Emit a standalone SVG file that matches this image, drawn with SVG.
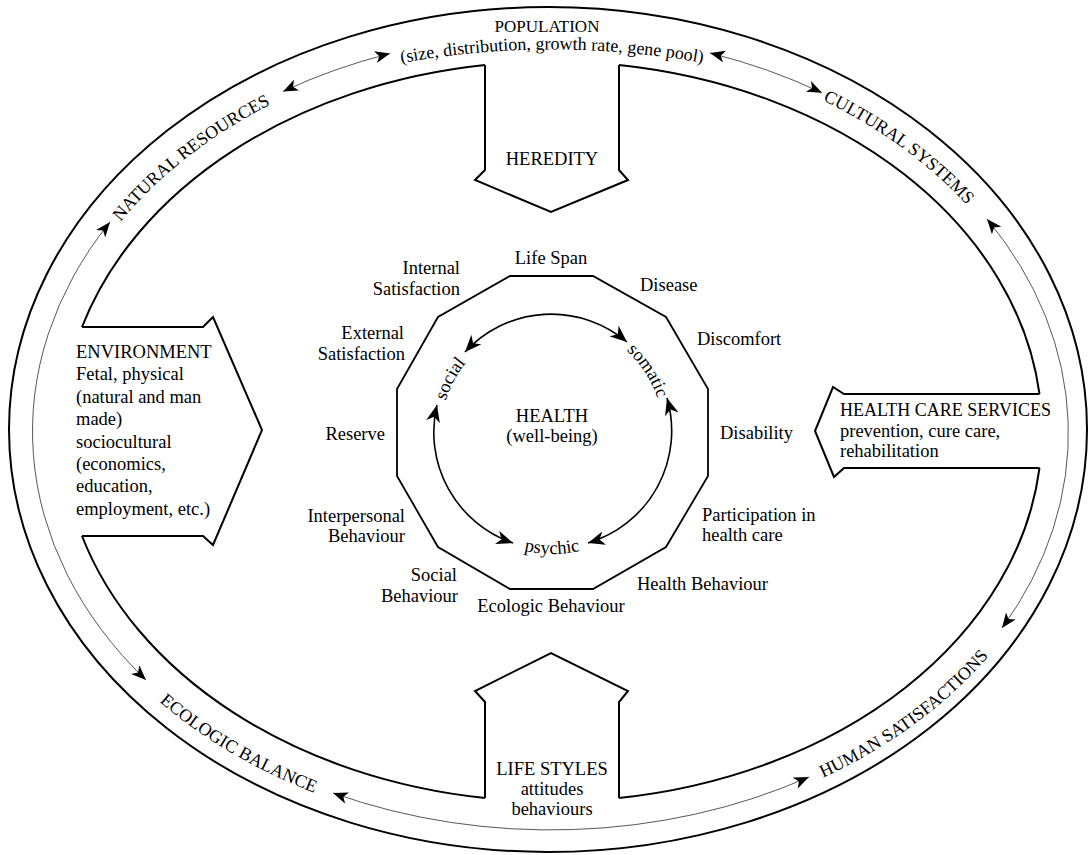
<svg xmlns="http://www.w3.org/2000/svg" width="1088" height="855" viewBox="0 0 1088 855">
<style>
text { font-family: "Liberation Serif", "Times New Roman", serif; font-size: 18.5px; fill: #000; }
.band { font-size: 18px; }
.pop { font-size: 17px; }
.sub { font-size: 18px; }
.line { fill: none; stroke: #000; stroke-width: 2; stroke-linejoin: miter; }
.thin { fill: none; stroke: #444; stroke-width: 0.9; marker-start: url(#ah); marker-end: url(#ah); }
.circ { fill: none; stroke: #000; stroke-width: 1.6; marker-start: url(#ahb); marker-end: url(#ahb); }
.poly { fill: none; stroke: #000; stroke-width: 1.8; }
</style>
<defs>
<marker id="ah" markerUnits="userSpaceOnUse" markerWidth="16" markerHeight="12" refX="15" refY="6" orient="auto-start-reverse" viewBox="0 0 16 12">
<path d="M0,0 L15,6 L0,12 L4,6 z" fill="#000"/>
</marker>
<marker id="ahb" markerUnits="userSpaceOnUse" markerWidth="18" markerHeight="14" refX="17" refY="7" orient="auto-start-reverse" viewBox="0 0 18 14">
<path d="M0,0 L17,7 L0,14 L5,7 z" fill="#000"/>
</marker>
<path id="pNat" d="M 85.1,272.6 A 510 392 0 0 1 327.4,79.7"/>
<path id="pCul" d="M 758.4,73.9 A 510 392 0 0 1 1009.4,260.1"/>
<path id="pEco" d="M 104.9,646.1 A 526 404 0 0 0 388.5,816.2"/>
<path id="pHum" d="M 751.5,805.5 A 526 404 0 0 0 1033,593.7"/>
<path id="pPop" d="M 385,66 Q 552,33 719,66"/>
<path id="pSoc" d="M 442.1,417.5 A 111 111 0 0 1 477.7,350.5"/>
<path id="pSom" d="M 618.8,344.4 A 111 111 0 0 1 660.2,408"/>
<path id="pPsy" d="M 474.2,525.7 A 121 121 0 0 0 629.8,525.7"/>
</defs>
<rect width="1088" height="855" fill="#fff"/>

<g id="ring">
<ellipse class="line" cx="548" cy="429.5" rx="539" ry="422.5"/>
<path class="line" d="M 82,327 A 490 370 0 0 1 485,65 M 619,65 A 490 370 0 0 1 1039.5,394 M 1039.5,468 A 490 370 0 0 1 619,798 M 485,798 A 490 370 0 0 1 82,536"/>
</g>

<g id="population">
<text class="pop" x="547" y="31.5" text-anchor="middle">POPULATION</text>
<text class="sub"><textPath href="#pPop" startOffset="50%" text-anchor="middle">(size, distribution, growth rate, gene pool)</textPath></text>
</g>
<g id="natural-resources"><text class="band"><textPath href="#pNat" startOffset="50%" text-anchor="middle">NATURAL RESOURCES</textPath></text></g>
<g id="cultural-systems"><text class="band"><textPath href="#pCul" startOffset="50%" text-anchor="middle">CULTURAL SYSTEMS</textPath></text></g>
<g id="ecologic-balance"><text class="band"><textPath href="#pEco" startOffset="50%" text-anchor="middle">ECOLOGIC BALANCE</textPath></text></g>
<g id="human-satisfactions"><text class="band"><textPath href="#pHum" startOffset="50%" text-anchor="middle">HUMAN SATISFACTIONS</textPath></text></g>

<g id="heredity">
<path class="line" d="M 485,65 L 485,170 L 475,180 L 551,212 L 628,180 L 619,170 L 619,65"/>
<text x="552" y="165" text-anchor="middle">HEREDITY</text>
</g>

<g id="environment">
<path class="line" d="M 82,327 L 203,327 L 213,317 L 262,430 L 213,545 L 203,536 L 82,536"/>
<text x="76" y="358">ENVIRONMENT</text>
<text x="76" y="380.4">Fetal, physical</text>
<text x="76" y="402.8">(natural and man</text>
<text x="76" y="425.2">made)</text>
<text x="76" y="447.6">sociocultural</text>
<text x="76" y="470">(economics,</text>
<text x="76" y="492.4">education,</text>
<text x="76" y="514.8">employment, etc.)</text>
</g>

<g id="health-care-services">
<path class="line" d="M 1039.5,394 L 844,394 L 833,387 L 815,431 L 834,477 L 844,468 L 1039.5,468"/>
<text class="sub" x="840" y="416">HEALTH CARE SERVICES</text>
<text x="840" y="437">prevention, cure care,</text>
<text x="840" y="457">rehabilitation</text>
</g>

<g id="life-styles">
<path class="line" d="M 485,798 L 485,702 L 475,691 L 551,653 L 628,691 L 619,702 L 619,798"/>
<text x="552" y="775" text-anchor="middle">LIFE STYLES</text>
<text x="552" y="795" text-anchor="middle">attitudes</text>
<text x="552" y="815" text-anchor="middle">behaviours</text>
</g>

<g id="health">
<polygon class="poly" points="510,276 593,276 666,317 708,389 708,476 666,547 593,589 510,589 438,547 397,476 397,389 438,317"/>
<text x="552" y="422" text-anchor="middle">HEALTH</text>
<text x="552" y="442" text-anchor="middle">(well-being)</text>
</g>

<g id="health-labels">
<text x="551" y="264" text-anchor="middle">Life Span</text>
<text x="460" y="274" text-anchor="end">Internal</text>
<text x="460" y="295" text-anchor="end">Satisfaction</text>
<text x="404" y="339" text-anchor="end">External</text>
<text x="405" y="360" text-anchor="end">Satisfaction</text>
<text x="385" y="440" text-anchor="end">Reserve</text>
<text x="405" y="522" text-anchor="end">Interpersonal</text>
<text x="405" y="542" text-anchor="end">Behaviour</text>
<text x="457" y="581" text-anchor="end">Social</text>
<text x="458" y="602" text-anchor="end">Behaviour</text>
<text x="551" y="612" text-anchor="middle">Ecologic Behaviour</text>
<text x="637" y="590">Health Behaviour</text>
<text x="702" y="521">Participation in</text>
<text x="702" y="541">health care</text>
<text x="720" y="439">Disability</text>
<text x="697" y="345">Discomfort</text>
<text x="640" y="291">Disease</text>
</g>

<g id="dimensions">
<text><textPath href="#pSoc" startOffset="50%" text-anchor="middle">social</textPath></text>
<text><textPath href="#pSom" startOffset="50%" text-anchor="middle">somatic</textPath></text>
<text><textPath href="#pPsy" startOffset="50%" text-anchor="middle">psychic</textPath></text>
</g>

<g id="connectors">
<path class="thin" d="M 283,91.4 A 518 398 0 0 1 390,53.5"/>
<path class="thin" d="M 710,53 A 518 398 0 0 1 822,92.8"/>
<path class="thin" d="M 987,219 A 518 398 0 0 1 1002,628"/>
<path class="thin" d="M 110,222 A 518 398 0 0 0 146,680"/>
<path class="thin" d="M 333,793 A 518 398 0 0 0 809,777"/>
<path class="circ" d="M 465,352 A 117 117 0 0 1 627,342"/>
<path class="circ" d="M 437,405 A 117 117 0 0 0 513,543"/>
<path class="circ" d="M 667,398 A 117 117 0 0 1 588,543"/>
</g>
</svg>
